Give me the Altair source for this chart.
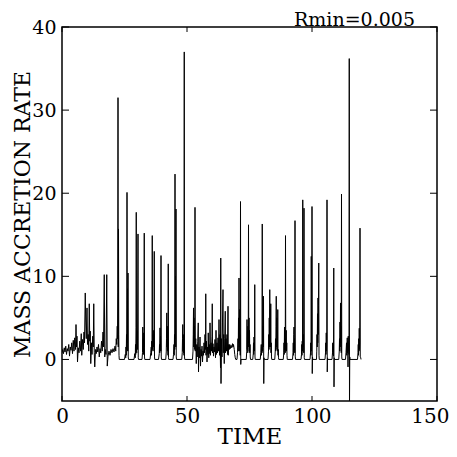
import altair as alt
import pandas as pd

# ---- data (time, mass accretion rate) ----
early = [
    (0.0, 0.8), (0.3, 1.2), (0.6, 0.7), (0.9, 1.4), (1.2, 0.9), (1.5, 1.6), (1.8, 0.6), (2.1, 1.3),
    (2.4, 1.0), (2.7, 1.8), (3.0, 0.4), (3.3, 1.5), (3.6, 1.1), (3.9, 2.0), (4.2, 0.7), (4.5, 2.3),
    (4.8, 1.0), (5.1, 2.6), (5.4, 1.2), (5.6, 4.2), (5.8, 1.5), (6.0, 2.8), (6.2, -0.3), (6.5, 1.4),
    (6.8, 0.8), (7.1, 2.2), (7.4, 1.0), (7.7, 3.1), (7.9, 0.5), (8.2, 2.4), (8.5, 1.2), (8.8, 3.3),
    (9.0, 2.0), (9.3, 8.0), (9.5, 4.5), (9.7, 2.5), (10.0, 6.2), (10.2, 1.8), (10.5, 3.0), (10.7, 1.0),
    (10.9, 6.7), (11.1, 2.2), (11.3, 3.4), (11.5, -0.5), (11.8, 2.0), (12.0, 0.6), (12.3, 2.8),
    (12.5, 1.5), (12.7, 6.7), (12.9, 0.8), (13.1, -0.9), (13.4, 1.2), (13.7, 0.7), (14.0, 1.5),
    (14.3, 0.9), (14.6, 1.8), (14.9, 0.3), (15.2, 1.3), (15.5, 0.8), (15.8, 2.2), (16.1, 1.0),
    (16.4, 3.3), (16.6, 1.5), (16.9, 10.2), (17.1, 0.3), (17.3, 1.2), (17.6, 0.6), (17.9, 10.2),
    (18.1, -0.8), (18.4, 0.4), (18.8, 1.0), (19.2, 0.5), (19.6, 1.2), (20.0, 0.8), (20.4, 1.3),
    (20.8, 0.9), (21.2, 1.6), (21.5, 1.0), (21.7, 2.5), (21.9, 1.8), (22.1, 4.0), (22.2, 2.5),
    (22.3, 8.0), (22.4, 31.5), (22.5, 1.5), (22.6, 15.7), (22.7, 3.0), (22.8, 0.5), (22.9, 0.0),
]

bursts_a = [
    (25.0, 0.0), (25.3, 0.6), (25.5, 0.2), (25.6, 1.5), (25.7, 0.5), (25.8, 3.0), (25.9, 1.2),
    (26.0, 20.1), (26.1, 2.0), (26.2, 8.5), (26.3, 1.0), (26.4, 10.4), (26.5, 0.3), (26.6, 0.0),
    (28.8, 0.0), (29.1, 0.7), (29.3, 0.2), (29.4, 1.8), (29.5, 0.6), (29.6, 3.8), (29.7, 17.7),
    (29.8, 1.0), (29.9, 0.8), (30.0, 3.5), (30.2, 1.2), (30.4, 15.1), (30.5, 0.2), (30.6, 0.0),
    (32.0, 0.0), (32.2, 0.8), (32.3, 3.9), (32.4, 1.0), (32.5, 2.5), (32.6, 0.6), (32.7, 3.2),
    (32.8, 1.5), (32.9, 15.2), (33.0, 0.3), (33.1, 0.0),
    (35.2, 0.0), (35.5, 0.8), (35.7, 1.5), (35.8, 0.5), (35.9, 2.2), (36.0, 1.0), (36.1, 14.9),
    (36.2, 1.2), (36.4, 3.0), (36.5, 1.5), (36.7, 3.5), (36.8, 1.0), (36.9, 13.0), (37.0, 0.3),
    (37.1, 0.0),
    (38.6, 0.0), (38.9, 0.7), (39.0, 1.8), (39.1, 0.8), (39.2, 3.8), (39.3, 1.5), (39.4, 2.8),
    (39.5, 1.0), (39.6, 12.5), (39.7, 0.3), (39.8, 0.0),
    (41.5, 0.0), (41.7, 0.9), (41.8, 2.5), (41.9, 5.6), (42.0, 1.5), (42.1, 4.0), (42.2, 1.0),
    (42.3, 2.0), (42.4, 0.5), (42.5, 11.5), (42.6, 0.2), (42.7, 0.0),
    (44.4, 0.0), (44.6, 0.6), (44.8, 1.8), (44.9, 0.5), (45.0, 3.0), (45.1, 1.2), (45.2, 22.3),
    (45.3, 2.5), (45.4, 10.0), (45.5, 1.5), (45.6, 18.1), (45.7, 0.3), (45.8, 0.0),
    (47.9, 0.0), (48.1, 0.8), (48.2, 2.5), (48.3, 4.2), (48.4, 1.0), (48.5, 3.0), (48.6, 0.8),
    (48.7, 1.8), (48.8, 0.5), (48.9, 37.0), (49.0, 0.3), (49.1, 0.0),
    (52.2, 0.0), (52.4, 1.0), (52.5, 3.0), (52.6, 6.2), (52.7, 1.5), (52.8, 5.0), (52.9, 2.0),
    (53.0, 4.0), (53.1, 1.2), (53.2, 18.3),
]

noisy_mid = [
    (53.3, 1.0), (53.5, 2.5), (53.7, -0.5), (53.9, 1.8), (54.1, 0.3), (54.3, 2.2), (54.5, 4.4),
    (54.6, -1.5), (54.8, 1.5), (55.0, 0.2), (55.2, 2.7), (55.4, -0.8), (55.6, 1.2), (55.8, 0.4),
    (56.0, 1.6), (56.2, -0.3), (56.4, 1.0), (56.6, 0.5), (56.8, 2.0), (57.0, 0.8), (57.2, 3.0),
    (57.4, 1.2), (57.5, 7.9), (57.6, 0.5), (57.8, 2.2), (58.0, -0.3), (58.2, 1.5), (58.4, 0.6),
    (58.5, 3.2), (58.7, 0.2), (58.9, 1.8), (59.1, 0.7), (59.2, 4.4), (59.4, 0.5), (59.6, 2.0),
    (59.8, 1.0), (60.0, 2.8), (60.1, 6.7), (60.2, 0.8), (60.4, 1.9), (60.6, 0.4), (60.8, 1.5),
    (61.0, 0.9), (61.2, 2.4), (61.4, 0.2), (61.6, 3.5), (61.8, 0.6), (62.0, 2.0), (62.2, 0.8),
    (62.4, 2.6), (62.6, 1.0), (62.8, 4.8), (63.0, 0.5), (63.2, 3.0), (63.4, -1.0), (63.5, 12.2),
    (63.6, -2.9), (63.8, 2.5), (64.0, 0.3), (64.2, 4.5), (64.4, 8.4), (64.5, 0.8), (64.7, 3.0),
    (64.9, -0.5), (65.1, 2.5), (65.3, 5.8), (65.4, 0.8), (65.6, 2.5), (65.8, 1.0), (66.0, 3.0),
    (66.2, 0.6), (66.4, 6.4), (66.5, 0.5), (66.7, 1.8), (66.9, 1.2), (67.1, 1.8), (67.3, 1.3),
    (67.6, 1.7), (67.9, 1.4), (68.2, 1.9), (68.4, 1.5), (68.6, 1.8), (68.9, 1.2), (69.1, 0.6),
    (69.3, 0.2), (69.5, 0.0),
]

bursts_b = [
    (70.0, 0.0), (70.2, 0.8), (70.4, 2.5), (70.5, 1.0), (70.6, 5.0), (70.7, 2.0), (70.8, 9.8),
    (70.9, 1.5), (71.0, 6.0), (71.1, 1.0), (71.2, 3.0), (71.3, 0.5), (71.4, 19.0), (71.5, -0.6),
    (71.6, 0.0),
    (73.7, 0.0), (73.9, 1.0), (74.0, 4.8), (74.1, 1.2), (74.2, 3.5), (74.3, 0.8), (74.4, 4.0),
    (74.5, 1.5), (74.6, 16.2), (74.7, 2.0), (74.8, 5.0), (74.9, 1.0), (75.0, 3.5), (75.1, 0.8),
    (75.2, 1.8), (75.3, 0.3), (75.4, 0.0),
    (76.3, 0.0), (76.5, 0.7), (76.6, 2.0), (76.7, 0.6), (76.8, 2.7), (76.9, 1.0), (77.0, 2.2),
    (77.1, 9.0), (77.2, 0.3), (77.3, 0.0),
    (79.3, 0.0), (79.5, 0.8), (79.7, 1.8), (79.8, 0.5), (79.9, 1.5), (80.0, 0.8), (80.1, 16.3),
    (80.2, 1.0), (80.4, 4.0), (80.5, 1.5), (80.6, 7.6), (80.7, -2.9), (80.8, 0.2), (80.9, 0.0),
    (82.4, 0.0), (82.6, 1.0), (82.7, 3.0), (82.8, 1.2), (82.9, 5.0), (83.0, 1.5), (83.1, 8.4),
    (83.2, 2.0), (83.3, 6.0), (83.4, 1.5), (83.5, 6.7), (83.6, 0.8), (83.7, 2.0), (83.8, 0.3),
    (83.9, 0.0),
    (85.1, 0.0), (85.3, 1.0), (85.4, 2.5), (85.5, 1.0), (85.6, 4.0), (85.7, 7.6), (85.8, 1.5),
    (85.9, 5.0), (86.0, 1.2), (86.1, 3.5), (86.2, 1.0), (86.3, 6.0), (86.4, 0.5), (86.5, 1.2),
    (86.6, 0.2), (86.7, 0.0),
    (88.5, 0.0), (88.7, 0.8), (88.8, 2.0), (88.9, 0.6), (89.0, 3.9), (89.1, 1.2), (89.2, 2.5),
    (89.3, 0.8), (89.4, 14.9), (89.5, 1.0), (89.7, 3.5), (89.8, 1.0), (89.9, 2.0), (90.0, 0.5),
    (90.1, 0.0),
    (92.2, 0.0), (92.4, 0.8), (92.5, 2.0), (92.6, 0.5), (92.7, 3.0), (92.8, 3.9), (92.9, 1.0),
    (93.0, 2.5), (93.1, 0.8), (93.2, 16.7), (93.3, 0.4), (93.4, 0.0),
    (95.6, 0.0), (95.8, 0.6), (95.9, 1.8), (96.0, 0.5), (96.1, 2.2), (96.2, 1.0), (96.3, 19.2),
    (96.4, 1.5), (96.6, 3.0), (96.7, 0.8), (96.8, 18.2), (96.9, 0.2), (97.0, 0.0),
    (99.2, 0.0), (99.4, 0.8), (99.5, 2.0), (99.6, 0.5), (99.7, 12.4), (99.8, 1.0), (99.9, 2.5),
    (100.0, 18.4), (100.1, -1.7), (100.2, 0.3), (100.3, 0.0),
    (101.8, 0.0), (101.9, 1.0), (102.0, 3.0), (102.1, 1.5), (102.2, 5.5), (102.3, 2.0),
    (102.4, 7.4), (102.5, 3.0), (102.6, 6.5), (102.7, 11.6), (102.8, 0.5), (102.9, 0.0),
    (105.2, 0.0), (105.4, 0.8), (105.5, 2.0), (105.6, 0.6), (105.7, 3.2), (105.8, 1.0),
    (105.9, 2.2), (106.0, 19.2), (106.1, -1.5), (106.2, 0.2), (106.3, 0.0),
    (108.0, 0.0), (108.2, 0.8), (108.3, 2.0), (108.4, 0.6), (108.5, 1.8), (108.6, 0.4),
    (108.7, 11.0), (108.8, -3.3), (108.9, 0.2), (109.0, 0.0),
    (110.7, 0.0), (110.9, 1.0), (111.0, 2.5), (111.1, 1.0), (111.2, 4.5), (111.3, 1.5),
    (111.4, 6.8), (111.5, 2.0), (111.6, 4.0), (111.7, 0.8), (111.8, 19.9), (111.9, 0.3),
    (112.0, 0.0),
    (113.4, 0.0), (113.6, 0.8), (113.8, 2.0), (113.9, 0.5), (114.1, 2.6), (114.2, 0.8),
    (114.3, 2.2), (114.4, -0.9), (114.5, 2.8), (114.6, 1.0), (114.7, 2.0), (114.8, 0.6),
    (114.9, 36.2), (115.0, -5.5), (115.1, 0.3), (115.2, 0.0),
    (118.2, 0.0), (118.4, 0.8), (118.5, 1.8), (118.6, 0.5), (118.7, 2.5), (118.8, 1.0),
    (118.9, 3.75), (119.0, 1.2), (119.1, 2.0), (119.2, 15.8), (119.3, 0.3), (119.5, 0.2),
    (119.6, 0.0),
]

x_tick_values = [0, 50, 100, 150]
y_tick_values = [0, 10, 20, 30, 40]
x_domain = [0, 150]
y_domain = [-5, 40]
run_label = ["Rmin=0.005"]

FONT = "DejaVu Serif"
W, H = 375, 374

series = early + bursts_a + noisy_mid + bursts_b
df = pd.DataFrame(series, columns=["time", "rate"])
df["order"] = range(len(df))

xs = alt.Scale(domain=x_domain, nice=False, zero=False)
ys = alt.Scale(domain=y_domain, nice=False, zero=False)

x_axis = alt.Axis(values=x_tick_values, ticks=False, domain=False, grid=False,
                  labelFont=FONT, labelFontSize=20, labelColor="black", labelPadding=5,
                  labelAlign=alt.expr("datum.value == 150 ? 'right' : 'center'"),
                  labelOffset=alt.expr("datum.value == 150 ? 12 : 0"),
                  titleFont=FONT, titleFontSize=23, titleFontWeight="normal",
                  titleColor="black", titleBaseline="alphabetic", titleY=42,
                  labelFlush=False)
y_axis = alt.Axis(values=y_tick_values, ticks=False, domain=False, grid=False,
                  labelFont=FONT, labelFontSize=19, labelColor="black", labelPadding=6,
                  titleFont=FONT, titleFontSize=22, titleFontWeight="normal",
                  titleColor="black", titleBaseline="alphabetic", titleX=-33,
                  labelFlush=False)

line = alt.Chart(df).mark_line(color="black", strokeWidth=1, clip=True).encode(
    x=alt.X("time:Q", scale=xs, title="TIME", axis=x_axis),
    y=alt.Y("rate:Q", scale=ys, title="MASS ACCRETION RATE", axis=y_axis),
    order="order:Q",
)

xt = pd.DataFrame({"time": x_tick_values})
yt = pd.DataFrame({"rate": y_tick_values})

xb = alt.Chart(xt).mark_rule(color="black", strokeWidth=1).encode(
    x=alt.X("time:Q", scale=xs, title="TIME", axis=x_axis), y=alt.value(H), y2=alt.value(H - 5))
xtop = alt.Chart(xt).mark_rule(color="black", strokeWidth=1).encode(
    x=alt.X("time:Q", scale=xs, title="TIME", axis=x_axis), y=alt.value(0), y2=alt.value(5))
yl = alt.Chart(yt).mark_rule(color="black", strokeWidth=1).encode(
    y=alt.Y("rate:Q", scale=ys, title="MASS ACCRETION RATE", axis=y_axis),
    x=alt.value(0), x2=alt.value(7))
yr = alt.Chart(yt).mark_rule(color="black", strokeWidth=1).encode(
    y=alt.Y("rate:Q", scale=ys, title="MASS ACCRETION RATE", axis=y_axis),
    x=alt.value(W - 7), x2=alt.value(W))

label = alt.Chart(pd.DataFrame({"label": run_label})).mark_text(
    font=FONT, fontSize=19, color="black", align="right", baseline="alphabetic"
).encode(text="label:N", x=alt.value(W - 22), y=alt.value(-1))

chart = alt.layer(line, xb, xtop, yl, yr, label).properties(
    width=W, height=H,
    autosize=alt.AutoSizeParams(type="none"),
    padding={"left": 54, "top": 19, "right": 12, "bottom": 48},
).configure_view(stroke="black", strokeWidth=1.5)

chart.save("out.html", embed_options={"renderer": "svg", "actions": False})
